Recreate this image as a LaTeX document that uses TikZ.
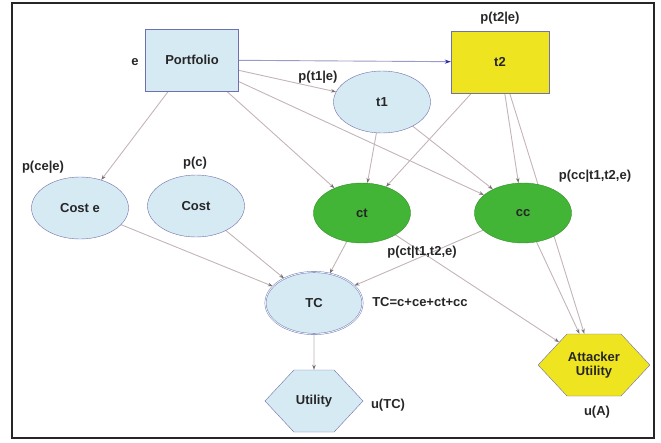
\documentclass[tikz,border=0pt]{standalone}
\usepackage{fontspec}
\setmainfont{Liberation Sans}
\usetikzlibrary{shapes.geometric,shapes.symbols,arrows.meta,backgrounds}

\definecolor{nodeblue}{RGB}{214,234,244}
\definecolor{rimblue}{RGB}{112,112,172}
\definecolor{leafgreen}{RGB}{66,180,54}
\definecolor{lemon}{RGB}{238,228,32}
\definecolor{linkgray}{RGB}{196,180,182}
\definecolor{tipgray}{RGB}{120,110,115}
\definecolor{navyarrow}{RGB}{40,40,170}

\begin{document}
\begin{tikzpicture}[
        x=1pt, y=-1pt,
        every node/.style={font=\fontsize{13}{14}\selectfont\bfseries, text=black!85},
        box/.style={rectangle, draw=rimblue, fill=nodeblue, minimum width=93pt, minimum height=62pt},
        chance/.style={ellipse, draw=rimblue, fill=nodeblue, minimum width=97pt, minimum height=62pt, inner sep=1pt},
        costnode/.style={chance, draw=leafgreen!80!black, fill=leafgreen},
        hexnode/.style={signal, signal to=west and east, signal pointer angle=94, draw=rimblue, fill=nodeblue, minimum width=98pt, minimum height=62pt, inner sep=1pt},
        link/.style={-{Stealth[length=5pt, width=3.5pt, color=tipgray]}, draw=linkgray, line width=0.9pt}
    ]
        \useasboundingbox (0,0) rectangle (661,442);
        \draw[gray!30!black, line width=1.2pt] (12,3) rectangle (654,438);

        % Vẽ các nút
        \node [box] (folio) at (192,60) {Portfolio};
        \node [box, fill=lemon, minimum width=98pt] (t2) at (500,62) {t2};
        \node [chance] (t1) at (382,102) {t1};
        \node [chance] (coste) at (80,208) {Cost e};
        \node [chance] (cost) at (196,206) {Cost};
        \node [costnode, minimum height=60pt] (ct) at (362,213) {ct};
        \node [costnode, minimum height=60pt] (cc) at (523,213) {cc};
        \node [chance, double=nodeblue!60, double distance=0.9pt] (tc) at (314,303) {TC};
        \node [hexnode] (util) at (314,401) {Utility};
        \node [hexnode, fill=lemon, minimum width=102pt, align=center] (atk) at (594,365) {Attacker\\Utility};

        % Nhãn
        \node (le) at (135,62) {e};
        \node (lt2) at (500,18) {p(t2|e)};
        \node (lt1) at (318,77) {p(t1|e)};
        \node (lce) at (43,167) {p(ce|e)};
        \node (lc) at (195,163) {p(c)};
        \node (lcc) at (595,176) {p(cc|t1,t2,e)};
        \node (lct) at (422,252) {p(ct|t1,t2,e)};
        \node (ltc) at (420,302) {TC=c+ce+ct+cc};
        \node (lu) at (388,405) {u(TC)};
        \node (la) at (597,412) {u(A)};

        % Các cạnh
        \begin{scope}[on background layer]
            \draw[link, draw=rimblue!70, -{Stealth[length=6pt, width=4pt, color=navyarrow]}] (folio) -- (t2);
            \draw[link] (folio) -- (t1);
            \draw[link] (folio) -- (coste);
            \draw[link] (folio) -- (ct);
            \draw[link] (folio) -- (cc);
            \draw[link] (t1) -- (ct);
            \draw[link] (t1) -- (cc);
            \draw[link] (t2) -- (ct);
            \draw[link] (t2) -- (cc);
            \draw[link] (t2) -- (atk);
            \draw[link] (cc) -- (atk);
            \draw[link] (ct) -- (atk);
            \draw[link] (ct) -- (tc);
            \draw[link] (cc) -- (tc);
            \draw[link] (coste) -- (tc);
            \draw[link] (cost) -- (tc);
            \draw[link] (tc) -- (util);
        \end{scope}
    \end{tikzpicture}
\end{document}
